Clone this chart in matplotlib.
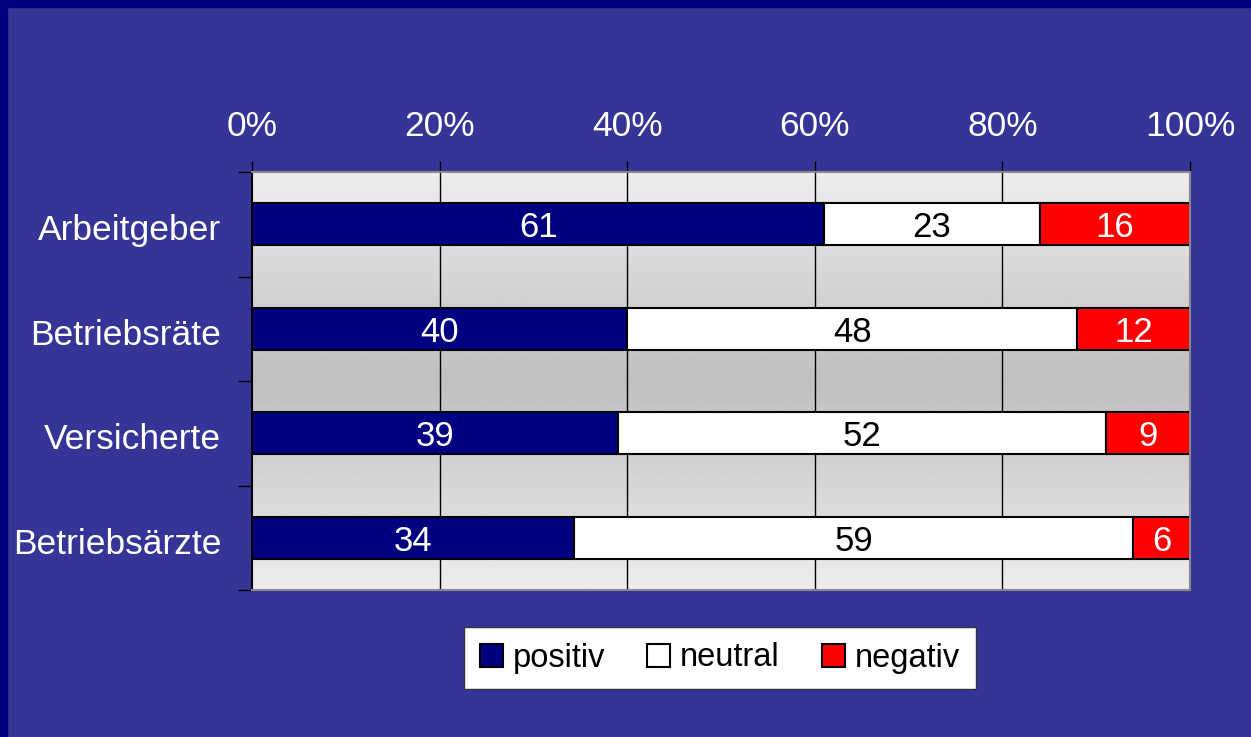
import numpy as np
import matplotlib
matplotlib.use("Agg")
from matplotlib import pyplot as plt
from matplotlib.patches import Rectangle, Patch

plt.rcParams["font.family"] = ["Liberation Sans", "DejaVu Sans"]

categories = ["Arbeitgeber", "Betriebsräte", "Versicherte", "Betriebsärzte"]
series_names = ["positiv", "neutral", "negativ"]
positiv = [61, 40, 39, 34]
neutral = [23, 48, 52, 59]
negativ = [16, 12, 9, 6]
xticks = [0, 20, 40, 60, 80, 100]

BG = "#353597"
DARK = "#000080"
colors = ["#000080", "#ffffff", "#ff0000"]
textcolors = ["white", "black", "white"]

fig = plt.figure(figsize=(12.51, 7.37), dpi=100, facecolor=BG)
fig.patches.append(Rectangle((0, 0), 7 / 1251, 1, transform=fig.transFigure,
                             color=DARK, zorder=0))
fig.patches.append(Rectangle((0, 1 - 7 / 737), 1, 7 / 737, transform=fig.transFigure,
                             color=DARK, zorder=0))

ax = fig.add_axes([252 / 1251, 1 - 590 / 737, 938 / 1251, 418 / 737])
n = len(categories)
ax.set_xlim(0, 100)
ax.set_ylim(n, 0)

# gradient plot area: light at top/bottom, darker in the middle
t = np.linspace(0, 1, 200)
shade = 0.93 - 0.18 * (1 - np.abs(2 * t - 1))
grad = np.repeat(shade[:, None], 2, axis=1)
ax.imshow(grad, cmap="gray", vmin=0, vmax=1, extent=[0, 100, n, 0],
          aspect="auto", zorder=0, interpolation="bilinear")

ypos = np.arange(n) + 0.5
for x in xticks[1:-1]:
    ax.axvline(x, color="black", lw=1, zorder=1)

# 100% stacked: each row scaled to its total
data = np.array([positiv, neutral, negativ], dtype=float)
totals = data.sum(axis=0)
left = np.zeros(n)
for vals, c, tc, name in zip(data, colors, textcolors, series_names):
    widths = vals / totals * 100
    ax.barh(ypos, widths, left=left, height=0.4, color=c, edgecolor="black",
            linewidth=1.5, zorder=2, label=name)
    for y, l, w, v in zip(ypos, left, widths, vals):
        ax.text(l + w / 2, y, "{:.0f}".format(v), color=tc, ha="center",
                va="center_baseline", fontsize=25, zorder=3)
    left = left + widths

ax.xaxis.tick_top()
ax.set_xticks(xticks)
ax.set_xticklabels(["{}%".format(x) for x in xticks])
ax.tick_params(axis="x", colors="black", labelcolor="white", labelsize=25.5,
               length=8, width=1, pad=13)
ax.set_yticks(np.arange(n + 1))
ax.set_yticklabels([])
ax.set_yticks(ypos + 0.03, minor=True)
ax.set_yticklabels(categories, minor=True)
ax.tick_params(axis="y", which="major", colors="black", length=10, width=1)
ax.tick_params(axis="y", which="minor", length=0, labelcolor="white",
               labelsize=25.5, pad=22)
for lbl in ax.get_yticklabels(minor=True):
    lbl.set_verticalalignment("center_baseline")

ax.spines["left"].set_color("black")
ax.spines["left"].set_linewidth(1.5)
for s in ["top", "right", "bottom"]:
    ax.spines[s].set_color("#888888")
    ax.spines[s].set_linewidth(1.5)

handles = [Patch(facecolor=c, edgecolor="black", linewidth=1.5) for c in colors]
leg = fig.legend(handles, series_names, loc="center", ncol=3,
                 bbox_to_anchor=(720 / 1251, 1 - 658 / 737), fontsize=23.5,
                 frameon=True, fancybox=False, edgecolor="#333333",
                 facecolor="white", framealpha=1,
                 handlelength=0.7, handleheight=0.7, handletextpad=0.3,
                 columnspacing=1.3, borderpad=0.48)
leg.get_frame().set_linewidth(1.0)

fig.savefig("out.png", dpi=100, facecolor=BG)
